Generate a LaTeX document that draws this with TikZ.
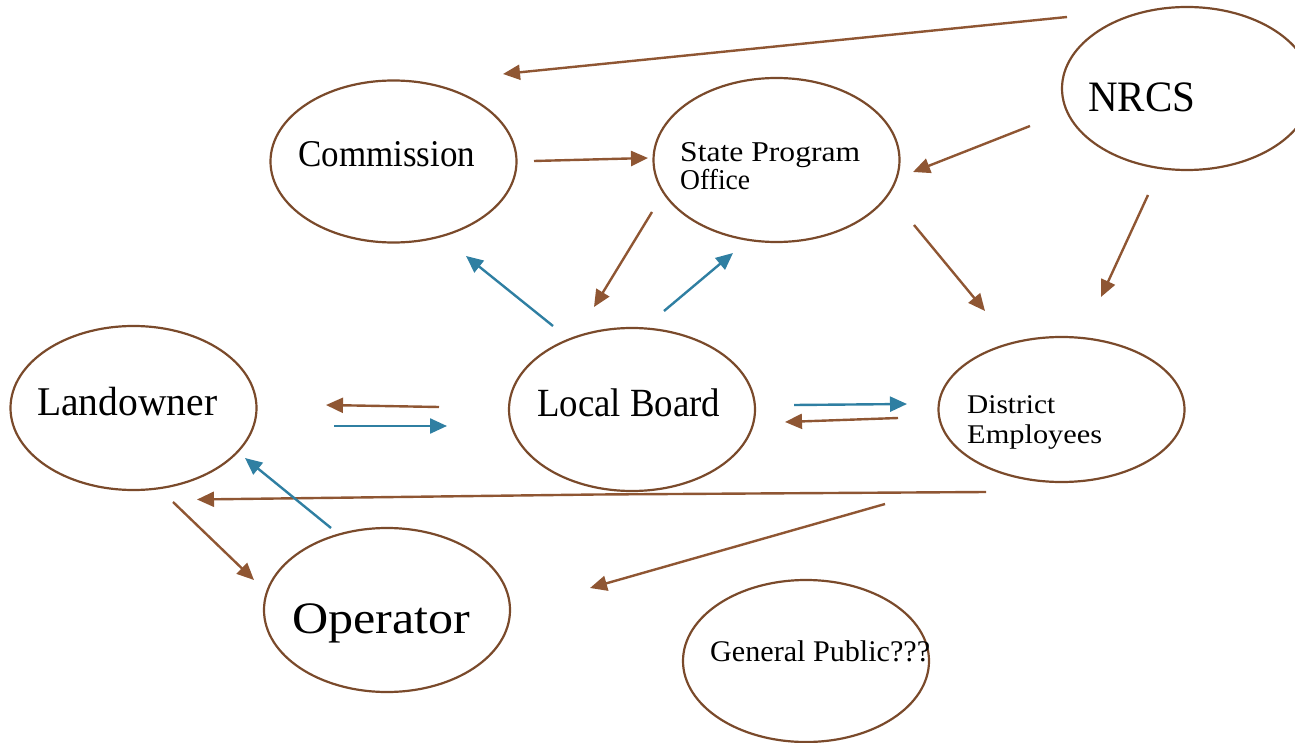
\documentclass[tikz,border=0pt]{standalone}
\usepackage{fontspec}
\setmainfont{Liberation Serif}
\usepackage{graphicx}
\usetikzlibrary{shapes.geometric,arrows.meta}
\definecolor{ebrown}{HTML}{7A4A2B}
\definecolor{abrown}{HTML}{8F5633}
\definecolor{ablue}{HTML}{2F7FA2}
\newcommand\fitt[3]{\resizebox{#2pt}{\height}{\fontsize{#1}{#1}\selectfont #3}}
\begin{document}
\begin{tikzpicture}[x=1pt,y=-1pt,
  bub/.style={draw=ebrown, line width=2.2pt, ellipse, inner sep=0pt, minimum width=246pt, minimum height=163pt},
  lbl/.style={anchor=base west, inner sep=0pt, text=black},
  br/.style={draw=abrown, line width=2.4pt, -{Triangle[length=17pt,width=15pt]}},
  bl/.style={draw=ablue, line width=2.4pt, -{Triangle[length=17pt,width=15pt]}}]
\useasboundingbox (0,0) rectangle (1295,743);
\clip (0,0) rectangle (1295,743);
% ellipses
\node[bub, minimum height=162pt] (com) at (393.5,161.5) {};
\node[bub, minimum height=164pt] (spo) at (776.5,160) {};
\node[bub, minimum width=250pt] (nrcs) at (1187,88.5) {};
\node[bub, minimum height=164pt] (land) at (133.5,408) {};
\node[bub] (lb) at (632,409.5) {};
\node[bub, minimum height=145pt] (de) at (1061.5,409.5) {};
\node[bub, minimum height=164pt] (op) at (387,610) {};
\node[bub, minimum height=162pt] (gp) at (806,661) {};
% labels
\node[lbl] (tcom) at (298,166.7) {\fitt{37.8}{177}{Commission}};
\node[lbl] (tnrcs) at (1088,111.7) {\fitt{43.4}{107}{NRCS}};
\node[lbl] (top) at (292,633) {\fitt{45}{178}{Operator}};
\node[lbl] (tgp) at (710,661.7) {\fitt{30}{220}{General Public???}};
\node[lbl] (tde1) at (967,413) {\fitt{27}{88}{District}};
\node[lbl] (tde2) at (967,443) {\fitt{27}{135}{Employees}};
\node[lbl] (tspo1) at (680,162) {\fitt{28.7}{180}{State Program}};
\node[lbl] (tspo2) at (680,190) {\fitt{28.7}{70}{Office}};
\node[lbl] (tlb) at (537,416.7) {\fitt{40}{183}{Local Board}};
\node[lbl] (tland) at (37,415) {\fitt{40.8}{180}{Landowner}};
% arrow end points
\coordinate (a1s) at (1067,17);   \coordinate (a1e) at (503,74);
\coordinate (a2s) at (534,161);   \coordinate (a2e) at (648,158);
\coordinate (a3s) at (1030,126);  \coordinate (a3e) at (913,172);
\coordinate (a4s) at (1148,195);  \coordinate (a4e) at (1101,297);
\coordinate (a5s) at (652,212);   \coordinate (a5e) at (594,307);
\coordinate (a6s) at (914,225);   \coordinate (a6e) at (985,311);
\coordinate (a7s) at (553,326);   \coordinate (a7e) at (466,256);
\coordinate (a8s) at (664,311);   \coordinate (a8e) at (733,253);
\coordinate (a9s) at (439,407);   \coordinate (a9e) at (326,405);
\coordinate (a10s) at (334,426);  \coordinate (a10e) at (447,426);
\coordinate (a11s) at (794,405);  \coordinate (a11e) at (907,404);
\coordinate (a12s) at (898,418);  \coordinate (a12e) at (785,422);
\coordinate (a13s) at (986,492);  \coordinate (a13m) at (597,494.5); \coordinate (a13e) at (197,499.5);
\coordinate (a14s) at (331,528);  \coordinate (a14e) at (245,458);
\coordinate (a15s) at (173,502);  \coordinate (a15e) at (254,580);
\coordinate (a16s) at (885,504);  \coordinate (a16e) at (590,588);
% connectors
\draw[br] (a1s) -- (a1e);
\draw[br] (a2s) -- (a2e);
\draw[br] (a3s) -- (a3e);
\draw[br] (a4s) -- (a4e);
\draw[br] (a5s) -- (a5e);
\draw[br] (a6s) -- (a6e);
\draw[bl] (a7s) -- (a7e);
\draw[bl] (a8s) -- (a8e);
\draw[br] (a9s) -- (a9e);
\draw[bl] (a10s) -- (a10e);
\draw[bl] (a11s) -- (a11e);
\draw[br] (a12s) -- (a12e);
\draw[br] (a13s) -- (a13m) -- (a13e);
\draw[bl] (a14s) -- (a14e);
\draw[br] (a15s) -- (a15e);
\draw[br] (a16s) -- (a16e);
\end{tikzpicture}
\end{document}
